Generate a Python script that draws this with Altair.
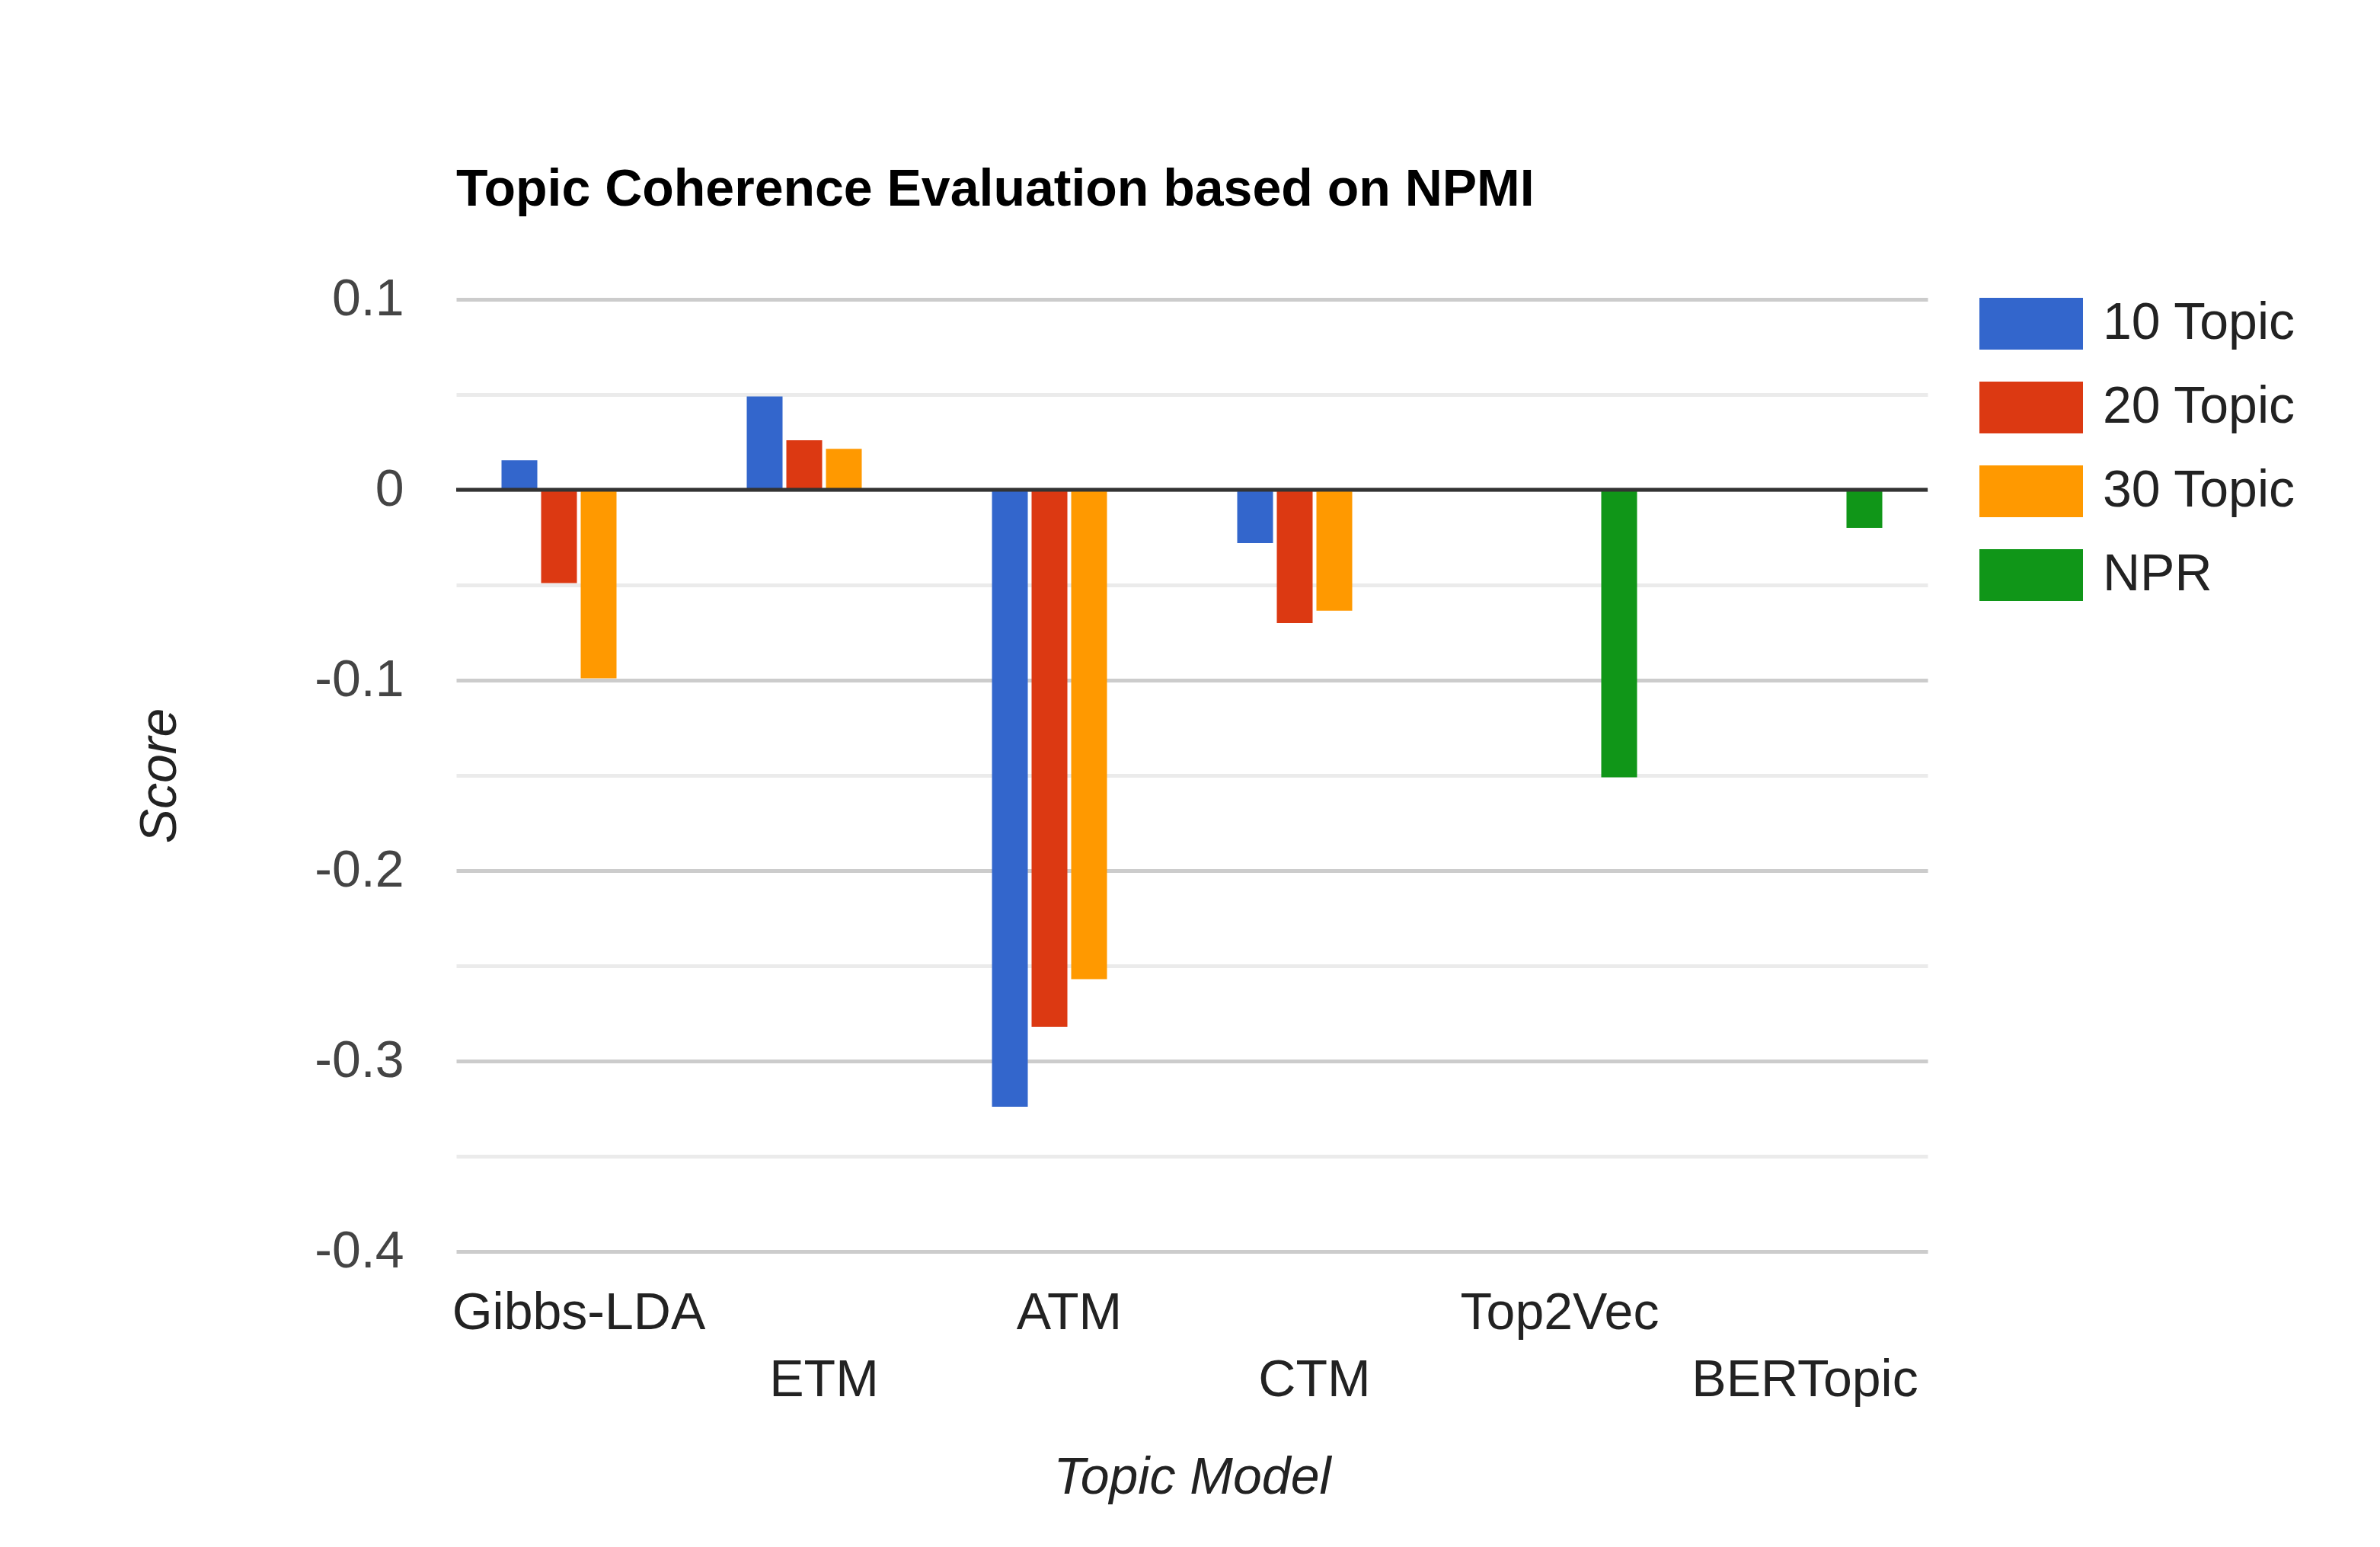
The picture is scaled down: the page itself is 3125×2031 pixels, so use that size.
import altair as alt
import pandas as pd

models = ["Gibbs-LDA", "ETM", "ATM", "CTM", "Top2Vec", "BERTopic"]
series = ["10 Topic", "20 Topic", "30 Topic", "NPR"]
topic10 = [0.0155, 0.049, -0.324, -0.028, None, None]
topic20 = [-0.049, 0.026, -0.282, -0.070, None, None]
topic30 = [-0.099, 0.0215, -0.257, -0.0635, None, None]
npr = [None, None, None, None, -0.151, -0.020]
colors = ["#3366cc", "#dc3912", "#ff9900", "#109618"]
y_ticks = [0.1, 0.05, 0.0, -0.05, -0.1, -0.15, -0.2, -0.25, -0.3, -0.35, -0.4]
stagger = ["ETM", "CTM", "BERTopic"]

rows = []
for s, vals in zip(series, [topic10, topic20, topic30, npr]):
    for m, v in zip(models, vals):
        if v is not None:
            rows.append({"model": m, "series": s, "score": v})
df = pd.DataFrame(rows)

FONT = "Liberation Sans"
FS = 68
W, H = 1932, 1250

label_expr = "indexof(" + str(stagger) + ", datum.value) >= 0 ? ['', datum.label] : datum.label"
major_test = "abs(round(datum.value*100)) % 10 == 0"

bars = alt.Chart(df).mark_bar().encode(
    x=alt.X(
        "model:N",
        sort=models,
        scale=alt.Scale(domain=models, paddingInner=0.3696, paddingOuter=0.1848),
        axis=alt.Axis(
            title="Topic Model",
            titleFont=FONT, titleFontSize=FS, titleFontStyle="italic", titleFontWeight="normal",
            titleColor="#222222", titleX=W / 2, titleY=297, titleBaseline="middle", titleAlign="center",
            labelFont=FONT, labelFontSize=FS, labelColor="#222222", labelAngle=0,
            labelBaseline="top", labelLineHeight=88, labelPadding=47, labelOverlap=False,
            labelExpr=label_expr, labelLimit=0,
            domain=False, ticks=False, grid=False,
        ),
    ),
    xOffset=alt.XOffset("series:N", sort=series,
                        scale=alt.Scale(domain=series, paddingInner=0.096, paddingOuter=0)),
    y=alt.Y(
        "score:Q",
        scale=alt.Scale(domain=[-0.4, 0.1], nice=False, zero=False),
        axis=alt.Axis(
            title="Score",
            titleFont=FONT, titleFontSize=FS, titleFontStyle="italic", titleFontWeight="normal",
            titleColor="#222222", titleX=-389, titleY=H / 2, titleBaseline="middle", titleAlign="center",
            titleAngle=270,
            values=y_ticks,
            labelExpr=major_test + " ? (datum.value == 0 ? '0' : ((datum.value < 0 ? '-' : '') + format(abs(datum.value), '.1f'))) : ''",
            labelFont=FONT, labelFontSize=FS, labelColor="#444444", labelPadding=69,
            labelOverlap=False,
            domain=False, ticks=False, grid=True, gridWidth=5,
            gridColor={"condition": {"test": major_test, "value": "#cccccc"},
                       "value": "#ebebeb"},
        ),
    ),
    color=alt.Color(
        "series:N",
        sort=series,
        scale=alt.Scale(domain=series, range=colors),
        legend=alt.Legend(
            title=None, orient="none", legendX=2000, legendY=-36,
            symbolType="M-1,-0.5L1,-0.5L1,0.5L-1,0.5Z", symbolSize=18496,
            symbolStrokeWidth=0, symbolOpacity=1,
            labelFont=FONT, labelFontSize=FS, labelColor="#222222", labelOffset=26,
            rowPadding=8, labelLimit=0,
        ),
    ),
)

zero_rule = alt.Chart(pd.DataFrame({"z": [0.0]})).mark_rule(color="#333333", strokeWidth=5).encode(
    y=alt.Y("z:Q")
)

chart = alt.layer(bars, zero_rule).properties(
    width=W, height=H,
    title=alt.TitleParams(
        "Topic Coherence Evaluation based on NPMI",
        anchor="start", frame="group", font=FONT, fontSize=FS, fontWeight="bold",
        color="#000000", offset=19, baseline="alphabetic",
    ),
    autosize=alt.AutoSizeParams(type="none"),
    padding={"left": 591, "top": 385, "right": 585, "bottom": 380},
    background="#ffffff",
).configure_view(stroke=None)

chart.save("out.html", embed_options={"renderer": "svg", "actions": False})
